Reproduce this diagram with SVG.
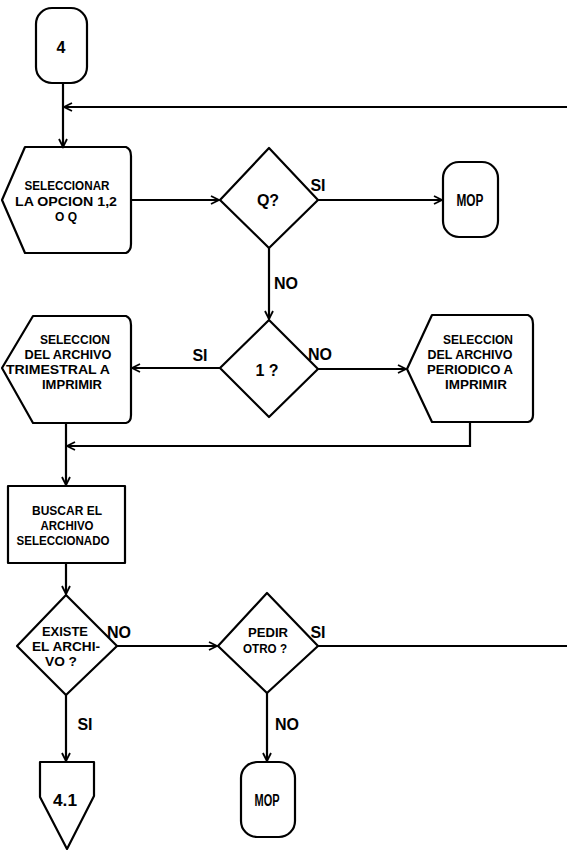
<svg xmlns="http://www.w3.org/2000/svg" width="567" height="850" viewBox="0 0 567 850">
<style>
.s{fill:none;stroke:#000;stroke-width:2.2;stroke-linejoin:round}
.c{fill:none;stroke:#000;stroke-width:2.2}
.t{font-family:"Liberation Sans","DejaVu Sans",sans-serif;font-weight:bold;font-size:16px;fill:#000;text-anchor:middle}
.m{font-size:13px}
</style>
<defs>
<marker id="a" markerUnits="userSpaceOnUse" markerWidth="12" markerHeight="12" refX="9" refY="5" orient="auto">
<path d="M1,1 L9,5 L1,9" fill="none" stroke="#000" stroke-width="1.8"/>
</marker>
</defs>
<rect width="567" height="850" fill="#fff"/>
<g id="connectors">
<path class="c" d="M63,83 V147" marker-end="url(#a)"/>
<path class="c" d="M567,107 H64" marker-end="url(#a)"/>
<path class="c" d="M131,200 H219" marker-end="url(#a)"/>
<path class="c" d="M318,200 H442" marker-end="url(#a)"/>
<path class="c" d="M269,248 V319" marker-end="url(#a)"/>
<path class="c" d="M220,368 H132" marker-end="url(#a)"/>
<path class="c" d="M318,369 H406" marker-end="url(#a)"/>
<path class="c" d="M470,422 V446 H67" marker-end="url(#a)"/>
<path class="c" d="M66,423 V485" marker-end="url(#a)"/>
<path class="c" d="M66,563 V594" marker-end="url(#a)"/>
<path class="c" d="M117,646 H217" marker-end="url(#a)"/>
<path class="c" d="M318,646 H567"/>
<path class="c" d="M66,695 V761" marker-end="url(#a)"/>
<path class="c" d="M267,693 V761" marker-end="url(#a)"/>
<text class="t" x="318" y="191">SI</text>
<text class="t" x="286" y="289">NO</text>
<text class="t" x="200" y="361">SI</text>
<text class="t" x="320" y="360">NO</text>
<text class="t" x="119" y="638">NO</text>
<text class="t" x="318" y="638">SI</text>
<text class="t" x="85" y="730">SI</text>
<text class="t" x="287" y="730">NO</text>
</g>
<g id="n4">
<rect class="s" x="36" y="8" width="51" height="75" rx="16"/>
<text class="t" x="61" y="53">4</text>
</g>
<g id="seleccionar">
<path class="s" d="M2,200 L25,147 L126,147 Q131,149 131,156 L131,244 Q131,251 126,253 L25,253 Z"/>
<text class="t m" x="67" y="190" textLength="85" lengthAdjust="spacingAndGlyphs">SELECCIONAR</text>
<text class="t m" x="66" y="206" textLength="102" lengthAdjust="spacingAndGlyphs">LA OPCION 1,2</text>
<text class="t m" x="66" y="221" textLength="22" lengthAdjust="spacingAndGlyphs">O Q</text>
</g>
<g id="q">
<path class="s" d="M269,148 L318,200 L269,248 L220,200 Z"/>
<text class="t" x="268" y="206">Q?</text>
</g>
<g id="mop1">
<rect class="s" x="443" y="162" width="55" height="75" rx="16"/>
<text class="t" x="470" y="206" textLength="27" lengthAdjust="spacingAndGlyphs">MOP</text>
</g>
<g id="uno">
<path class="s" d="M269,320 L318,369 L269,417 L220,368 Z"/>
<text class="t" x="267" y="376">1 ?</text>
</g>
<g id="trimestral">
<path class="s" d="M2,368 L33,316 L126,316 Q131,318 131,325 L131,415 Q131,422 126,423 L33,423 Z"/>
<text class="t m" x="75" y="344" textLength="70" lengthAdjust="spacingAndGlyphs">SELECCION</text>
<text class="t m" x="68" y="359" textLength="87" lengthAdjust="spacingAndGlyphs">DEL ARCHIVO</text>
<text class="t m" x="58" y="374" textLength="104" lengthAdjust="spacingAndGlyphs">TRIMESTRAL A</text>
<text class="t m" x="72" y="389" textLength="60" lengthAdjust="spacingAndGlyphs">IMPRIMIR</text>
</g>
<g id="periodico">
<path class="s" d="M407,369 L432,315 L528,315 Q533,317 533,324 L533,415 Q533,421 528,422 L432,422 Z"/>
<text class="t m" x="478" y="344" textLength="70" lengthAdjust="spacingAndGlyphs">SELECCION</text>
<text class="t m" x="470" y="359" textLength="85" lengthAdjust="spacingAndGlyphs">DEL ARCHIVO</text>
<text class="t m" x="470" y="374" textLength="86" lengthAdjust="spacingAndGlyphs">PERIODICO A</text>
<text class="t m" x="476" y="389" textLength="62" lengthAdjust="spacingAndGlyphs">IMPRIMIR</text>
</g>
<g id="buscar">
<rect class="s" x="8" y="486" width="117" height="77"/>
<text class="t m" x="67" y="515" textLength="70" lengthAdjust="spacingAndGlyphs">BUSCAR EL</text>
<text class="t m" x="67" y="530" textLength="53" lengthAdjust="spacingAndGlyphs">ARCHIVO</text>
<text class="t m" x="63" y="545" textLength="93" lengthAdjust="spacingAndGlyphs">SELECCIONADO</text>
</g>
<g id="existe">
<path class="s" d="M66,595 L117,646 L66,695 L17,646 Z"/>
<text class="t m" x="65" y="636" textLength="46" lengthAdjust="spacingAndGlyphs">EXISTE</text>
<text class="t m" x="66" y="651" textLength="68" lengthAdjust="spacingAndGlyphs">EL ARCHI-</text>
<text class="t m" x="61" y="666" textLength="32" lengthAdjust="spacingAndGlyphs">VO ?</text>
</g>
<g id="pedir">
<path class="s" d="M267,593 L318,646 L267,693 L218,646 Z"/>
<text class="t m" x="268" y="637" textLength="40" lengthAdjust="spacingAndGlyphs">PEDIR</text>
<text class="t m" x="265" y="653" textLength="44" lengthAdjust="spacingAndGlyphs">OTRO ?</text>
</g>
<g id="n41">
<path class="s" d="M40,762 L94,762 L94,796 L67,849 L40,797 Z"/>
<text class="t" x="65" y="806" textLength="24" lengthAdjust="spacingAndGlyphs">4.1</text>
</g>
<g id="mop2">
<rect class="s" x="241" y="762" width="54" height="75" rx="16"/>
<text class="t" x="267" y="806" textLength="25" lengthAdjust="spacingAndGlyphs">MOP</text>
</g>
</svg>
